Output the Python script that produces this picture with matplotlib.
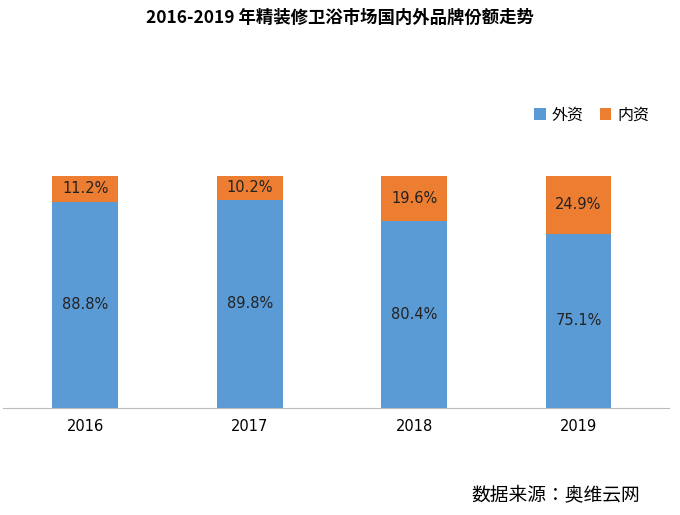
import matplotlib.pyplot as plt
import numpy as np

cjk = 'Noto Sans CJK JP'
plt.rcParams['font.family'] = ['DejaVu Sans', cjk]

years = ['2016', '2017', '2018', '2019']
foreign = [88.8, 89.8, 80.4, 75.1]
domestic = [11.2, 10.2, 19.6, 24.9]

blue = '#5B9BD5'
orange = '#ED7D31'

fig = plt.figure(figsize=(6.8, 5.15), dpi=100)
ax = fig.add_axes([3 / 680, 107 / 515, 666 / 680, 232 / 515])

x = np.arange(len(years))
ax.bar(x, foreign, width=0.4, color=blue, label='外资')
ax.bar(x, domestic, width=0.4, bottom=foreign, color=orange, label='内资')

for i in range(len(years)):
    ax.text(x[i], foreign[i] / 2, f'{foreign[i]:.1f}%', ha='center', va='center',
            fontsize=10.5, color='#222222')
    ax.text(x[i], foreign[i] + domestic[i] / 2, f'{domestic[i]:.1f}%', ha='center',
            va='center', fontsize=10.5, color='#222222')

ax.set_xlim(-0.5, 3.55)
ax.set_ylim(0, 100)
ax.set_xticks(x)
ax.set_xticklabels(years, fontsize=10.5)
ax.tick_params(axis='x', length=0, pad=8)
ax.set_yticks([])
for s in ['top', 'right', 'left']:
    ax.spines[s].set_visible(False)
ax.spines['bottom'].set_color('#bbbbbb')

fig.text(0.5, 1 - 18 / 515, '2016-2019 年精装修卫浴市场国内外品牌份额走势', ha='center',
         va='center', fontsize=12.5, fontweight='bold', family=cjk)
fig.legend(loc='center', bbox_to_anchor=(592 / 680, 1 - 115 / 515), ncol=2,
           frameon=False, handlelength=0.7, handleheight=0.7,
           columnspacing=1.0, handletextpad=0.4, prop={'family': cjk, 'size': 11.5})
fig.text(640 / 680, 1 - 495 / 515, '数据来源：奥维云网', ha='right', va='center',
         fontsize=13.5, family=cjk)

fig.savefig('out.png', dpi=100)
